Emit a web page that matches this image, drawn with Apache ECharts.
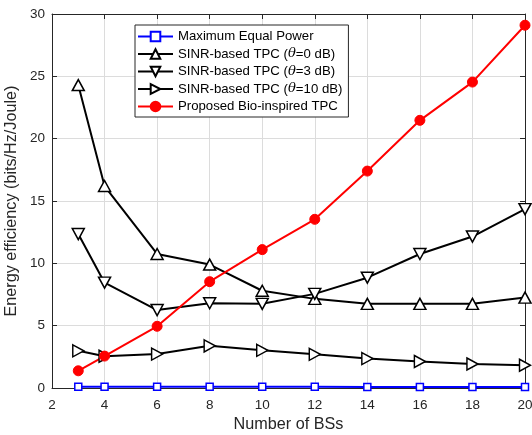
<!DOCTYPE html>
<html>
<head>
<meta charset="utf-8">
<script src="https://cdn.jsdelivr.net/npm/echarts@6/dist/echarts.min.js"></script>
<style>html,body{margin:0;padding:0;background:#fff}#c{width:532px;height:435px}</style>
</head>
<body>
<div id="c"></div>
<script>
const bsCounts = [3, 4, 6, 8, 10, 12, 14, 16, 18, 20];
const maxEqualPower = [0.1, 0.1, 0.1, 0.1, 0.1, 0.1, 0.08, 0.08, 0.08, 0.08];
const sinrTheta0 = [24.3, 16.2, 10.75, 9.9, 7.8, 7.15, 6.75, 6.75, 6.75, 7.25];
const sinrTheta3 = [12.35, 8.45, 6.25, 6.8, 6.75, 7.55, 8.85, 10.75, 12.15, 14.35];
const sinrTheta10 = [2.98, 2.55, 2.72, 3.38, 3.02, 2.7, 2.36, 2.12, 1.93, 1.83];
const proposedBio = [1.38, 2.56, 4.95, 8.53, 11.1, 13.53, 17.4, 21.47, 24.54, 29.1];
const xTicks = [2, 4, 6, 8, 10, 12, 14, 16, 18, 20];
const yTicks = [0, 5, 10, 15, 20, 25, 30];
const seriesNames = ['Maximum Equal Power', 'SINR-based TPC (\u03b8=0 dB)', 'SINR-based TPC (\u03b8=3 dB)', 'SINR-based TPC (\u03b8=10 dB)', 'Proposed Bio-inspired TPC'];

const pair = arr => bsCounts.map((x, i) => [x, arr[i]]);
const font = 'Liberation Sans, Arial, Helvetica, sans-serif';
const triRight = 'path://M0,0 L17,10 L0,20 Z';
const triDown = 'path://M0,0 L20,0 L10,17 Z';
const triUp = 'path://M10,0 L20,17 L0,17 Z';

const chart = echarts.init(document.getElementById('c'), null, {renderer: 'canvas'});
const axisCommon = {
  axisLine: {show: true, onZero: false, lineStyle: {color: '#262626', width: 1}},
  axisTick: {show: true, inside: true, length: 5, lineStyle: {color: '#262626'}},
};
const legendFmt = name => {
  const i = name.indexOf('\u03b8');
  if (i < 0) return name;
  return name.slice(0, i) + '{it|\u03b8}' + name.slice(i + 1);
};
chart.setOption({
  animation: false,
  backgroundColor: '#fff',
  grid: {left: 52, right: 7, top: 14, bottom: 47, containLabel: false, outerBoundsMode: 'none'},
  legend: {
    orient: 'vertical', left: 135, top: 25,
    backgroundColor: '#fff', borderColor: '#262626', borderWidth: 1,
    padding: [5, 6, 4, 2], itemGap: 4.5, itemWidth: 35, itemHeight: 12,
    formatter: legendFmt,
    textStyle: {fontFamily: font, fontSize: 13.2, color: '#000',
      rich: {it: {fontFamily: 'DejaVu Serif, serif', fontStyle: 'italic', fontSize: 13.2, color: '#000'}}},
    data: seriesNames
  },
  xAxis: [{
    type: 'value', min: 2, max: 20, interval: 2, position: 'bottom',
    name: 'Number of BSs', nameLocation: 'middle', nameGap: 28,
    nameTextStyle: {fontFamily: font, fontSize: 16.2, color: '#262626'},
    axisLabel: {fontFamily: font, fontSize: 13.5, color: '#262626', margin: 10,
      formatter: v => xTicks.includes(v) ? String(v) : ''},
    splitLine: {show: true, lineStyle: {color: '#dcdcdc', width: 1}},
    ...axisCommon
  }, {
    type: 'value', min: 2, max: 20, interval: 2, position: 'top',
    axisLabel: {show: false}, splitLine: {show: false}, ...axisCommon
  }],
  yAxis: [{
    type: 'value', min: 0, max: 30, interval: 5, position: 'left',
    name: 'Energy efficiency (bits/Hz/Joule)', nameLocation: 'middle', nameGap: 27,
    nameTextStyle: {fontFamily: font, fontSize: 16.2, color: '#262626'},
    axisLabel: {fontFamily: font, fontSize: 13.5, color: '#262626', margin: 7,
      formatter: v => yTicks.includes(v) ? String(v) : ''},
    splitLine: {show: true, lineStyle: {color: '#dcdcdc', width: 1}},
    ...axisCommon
  }, {
    type: 'value', min: 0, max: 30, interval: 5, position: 'right',
    axisLabel: {show: false}, splitLine: {show: false}, ...axisCommon
  }],
  series: [
    {name: seriesNames[0], type: 'line', data: pair(maxEqualPower),
      symbol: 'rect', symbolSize: 7, showAllSymbol: true,
      lineStyle: {color: '#0000ff', width: 2},
      itemStyle: {color: '#fff', borderColor: '#0000ff', borderWidth: 1.5}},
    {name: seriesNames[1], type: 'line', data: pair(sinrTheta0),
      symbol: triUp, symbolSize: [12, 11],
      lineStyle: {color: '#000', width: 2},
      itemStyle: {color: '#fff', borderColor: '#000', borderWidth: 1.5}},
    {name: seriesNames[2], type: 'line', data: pair(sinrTheta3),
      symbol: triDown, symbolSize: [12, 11],
      lineStyle: {color: '#000', width: 2},
      itemStyle: {color: '#fff', borderColor: '#000', borderWidth: 1.5}},
    {name: seriesNames[3], type: 'line', data: pair(sinrTheta10),
      symbol: triRight, symbolSize: [11, 12],
      lineStyle: {color: '#000', width: 2},
      itemStyle: {color: '#fff', borderColor: '#000', borderWidth: 1.5}},
    {name: seriesNames[4], type: 'line', data: pair(proposedBio),
      symbol: 'circle', symbolSize: 10,
      lineStyle: {color: '#ff0000', width: 2},
      itemStyle: {color: '#ff0000', borderColor: '#ff0000', borderWidth: 1}}
  ]
});
</script>
</body>
</html>
